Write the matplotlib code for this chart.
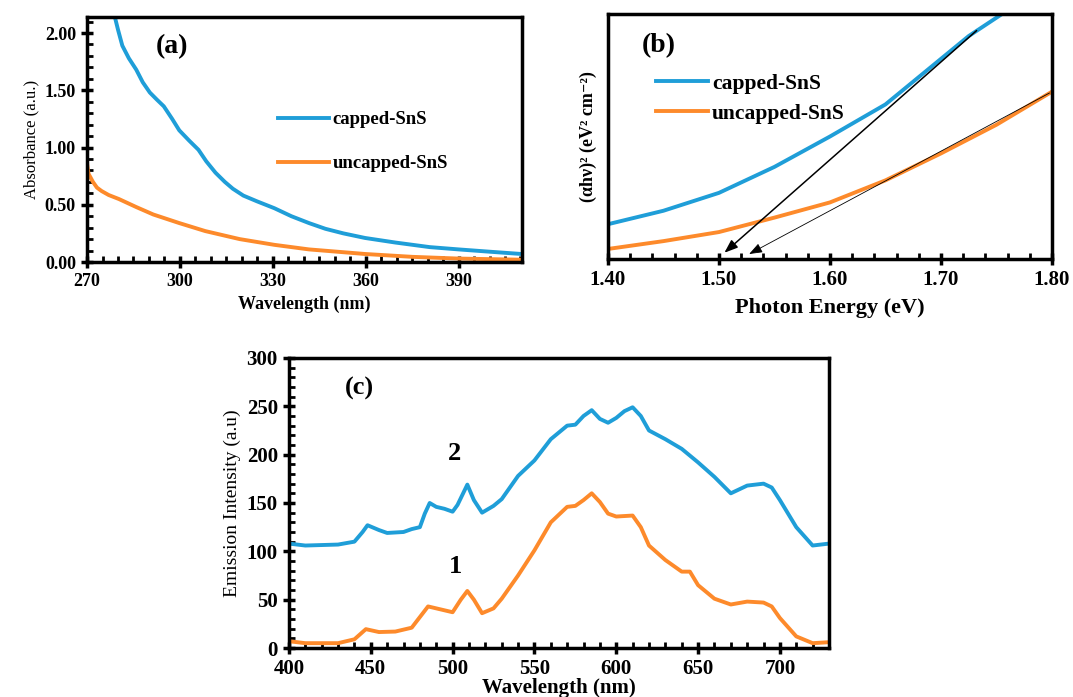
#Absorbance, Tauc plot and emission spectra of capped / uncapped SnS.

import matplotlib
matplotlib.use('Agg')
import matplotlib.pyplot as plt
from matplotlib.ticker import MultipleLocator, FormatStrFormatter

plt.rcParams['font.family'] = ['Liberation Serif', 'DejaVu Serif']
plt.rcParams['font.weight'] = 'bold'
plt.rcParams['axes.labelweight'] = 'bold'

BLUE = '#1f9ed8'
ORANGE = '#fd8a2b'

# (a) absorbance
wl_capped = [278.9, 280.0, 281.4, 283.5, 285.9, 288.0, 290.3, 292.5, 294.8, 297.5,
             299.8, 303.0, 306.0, 308.5, 311.5, 314.5, 317.1, 320.5, 324.9,
             330.5, 336.0, 341.7, 347.0, 352.8, 359.8, 369.6, 380.7, 390.0, 400.0, 410.3]
abs_capped = [2.15, 2.03, 1.89, 1.78, 1.68, 1.57, 1.48, 1.42, 1.36, 1.25,
              1.15, 1.06, 0.98, 0.88, 0.78, 0.70, 0.64, 0.58, 0.53,
              0.47, 0.40, 0.34, 0.29, 0.25, 0.21, 0.17, 0.13, 0.11, 0.09, 0.07]
wl_uncapped = [270.0, 270.5, 271.9, 273.2, 274.7, 277.0, 280.3, 285.9, 291.4, 299.8,
               308.2, 319.3, 330.5, 341.7, 359.8, 375.1, 390.0, 410.3]
abs_uncapped = [0.86, 0.77, 0.70, 0.65, 0.62, 0.585, 0.55, 0.48, 0.415, 0.34,
                0.27, 0.20, 0.15, 0.11, 0.07, 0.045, 0.03, 0.02]

# (b) Tauc plot (arbitrary units)
e_capped = [1.40, 1.45, 1.50, 1.55, 1.60, 1.65, 1.70, 1.725, 1.755]
tauc_capped = [14.2, 19.7, 27.0, 37.6, 50.0, 63.1, 81.7, 91.0, 100.0]
e_uncapped = [1.40, 1.45, 1.50, 1.55, 1.60, 1.65, 1.70, 1.75, 1.80]
tauc_uncapped = [4.1, 7.3, 11.0, 16.9, 23.1, 32.1, 43.1, 54.8, 68.3]
# tangent extrapolations: (start x, start y, end x, end y)
fit_capped = (1.734, 94.0, 1.503, 1.8)
fit_uncapped = (1.80, 68.3, 1.525, 1.5)

# (c) emission
wl_pl = [400, 410, 430, 440, 445, 448, 455, 460, 470, 475, 480, 483, 486, 490, 495,
         500, 503, 509, 513, 518, 525, 530, 540, 550, 560, 570, 575, 580, 585, 590,
         595, 600, 605, 610, 615, 620, 630, 640, 650, 660, 670, 680, 690, 695, 700,
         710, 720, 730]
pl_2 = [108, 106, 107, 110, 120, 127, 122, 119, 120, 123, 125, 139, 150, 146, 144,
        141, 148, 169, 153, 140, 147, 154, 178, 194, 216, 230, 231, 240, 246, 237,
        233, 238, 245, 249, 240, 225, 216, 206, 192, 177, 160, 168, 170, 166, 153,
        125, 106, 108]
wl_pl1 = [400, 410, 430, 440, 447, 455, 465, 475, 485, 495, 500, 505, 509, 513, 518,
          525, 530, 540, 550, 560, 570, 575, 580, 585, 590, 595, 600, 610, 615, 620,
          630, 640, 645, 650, 660, 670, 680, 690, 695, 700, 710, 720, 730]
pl_1 = [7, 5, 5, 9, 19.5, 16.5, 17, 21, 43, 39, 37, 50, 59, 50, 36,
        41, 51, 75, 101, 130, 146, 147, 153, 160, 151, 139, 136, 137, 125, 106,
        91, 79, 79, 65, 51, 45, 48, 47, 43, 31, 12, 5, 6]


def style_axes(ax, size):
    for s in ax.spines.values():
        s.set_linewidth(2.5)
    ax.tick_params(which='major', direction='inout', length=9, width=2.5,
                   labelsize=size, top=False, right=False)
    ax.tick_params(which='minor', direction='in', length=4, width=2,
                   top=False, right=False)


fig = plt.figure(figsize=(10.73, 6.97), dpi=100)

# panel a
ax1 = fig.add_axes([0.0811, 0.6241, 0.4054, 0.3515])
ax1.plot(wl_capped, abs_capped, color=BLUE, lw=2.8, label='capped-SnS')
ax1.plot(wl_uncapped, abs_uncapped, color=ORANGE, lw=2.8, label='uncapped-SnS')
ax1.set_xlim(270, 410.5)
ax1.set_ylim(0, 2.14)
ax1.xaxis.set_major_locator(MultipleLocator(30))
ax1.xaxis.set_minor_locator(MultipleLocator(5))
ax1.yaxis.set_major_locator(MultipleLocator(0.5))
ax1.yaxis.set_minor_locator(MultipleLocator(0.1))
ax1.yaxis.set_major_formatter(FormatStrFormatter('%.2f'))
style_axes(ax1, 13)
ax1.set_xlabel('Wavelength (nm)', fontsize=13, labelpad=4)
ax1.set_ylabel('Absorbance (a.u.)', fontsize=12, fontweight='normal', labelpad=4)
ax1.text(297.6, 1.88, '(a)', fontsize=20, fontweight='bold', ha='center', va='center')
ax1.legend(loc='upper left', bbox_to_anchor=(0.40, 0.685), frameon=False,
           fontsize=13.5, handlelength=2.7, handletextpad=0.2, labelspacing=1.45)

# panel b
ax2 = fig.add_axes([0.5666, 0.6284, 0.4138, 0.3515])
ax2.plot(e_capped, tauc_capped, color=BLUE, lw=2.8, label='capped-SnS')
ax2.plot(e_uncapped, tauc_uncapped, color=ORANGE, lw=2.8, label='uncapped-SnS')
ax2.annotate('', xy=fit_capped[2:], xytext=fit_capped[:2],
             arrowprops=dict(arrowstyle='-|>,head_length=0.8,head_width=0.3',
                             color='black', lw=1.1))
ax2.annotate('', xy=fit_uncapped[2:], xytext=fit_uncapped[:2],
             arrowprops=dict(arrowstyle='-|>,head_length=0.8,head_width=0.3',
                             color='black', lw=0.6))
ax2.set_xlim(1.40, 1.80)
ax2.set_ylim(0, 100)
ax2.xaxis.set_major_locator(MultipleLocator(0.1))
ax2.xaxis.set_minor_locator(MultipleLocator(0.02))
ax2.xaxis.set_major_formatter(FormatStrFormatter('%.2f'))
ax2.set_yticks([])
style_axes(ax2, 15)
ax2.set_xlabel('Photon Energy (eV)', fontsize=16, labelpad=6)
ax2.set_ylabel('(\u03b1h\u03bd)\u00b2 (eV\u00b2 cm\u207b\u00b2)', fontsize=13, labelpad=8)
ax2.text(1.446, 87, '(b)', fontsize=20, fontweight='bold', ha='center', va='center')
ax2.legend(loc='upper left', bbox_to_anchor=(0.065, 0.835), frameon=False,
           fontsize=15.5, handlelength=2.4, handletextpad=0.2, labelspacing=0.45)

# panel c
ax3 = fig.add_axes([0.2693, 0.0703, 0.5033, 0.4161])
ax3.plot(wl_pl1, pl_1, color=ORANGE, lw=2.8)
ax3.plot(wl_pl, pl_2, color=BLUE, lw=2.8)
ax3.set_xlim(400, 730)
ax3.set_ylim(0, 300)
ax3.xaxis.set_major_locator(MultipleLocator(50))
ax3.xaxis.set_minor_locator(MultipleLocator(10))
ax3.yaxis.set_major_locator(MultipleLocator(50))
ax3.yaxis.set_minor_locator(MultipleLocator(10))
style_axes(ax3, 15)
ax3.set_xlabel('Wavelength (nm)', fontsize=15, labelpad=-1)
ax3.set_ylabel('Emission Intensity (a.u)', fontsize=14, fontweight='normal', labelpad=4)
ax3.text(443, 268, '(c)', fontsize=19, fontweight='bold', ha='center', va='center')
ax3.text(501, 201, '2', fontsize=19, fontweight='bold', ha='center', va='center')
ax3.text(502, 84, '1', fontsize=19, fontweight='bold', ha='center', va='center')

fig.savefig('out.png', dpi=100)
